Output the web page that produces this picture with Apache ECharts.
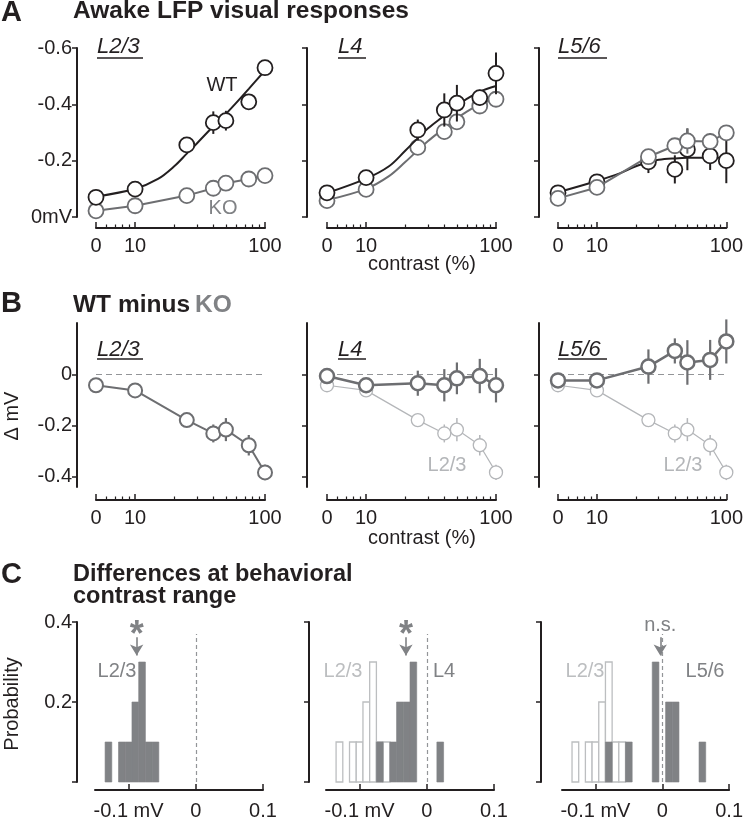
<!DOCTYPE html>
<html><head><meta charset="utf-8">
<script src="https://cdn.jsdelivr.net/npm/echarts@6/dist/echarts.min.js"></script>
<style>html,body{margin:0;padding:0;background:#fff}#c{width:746px;height:821px}</style>
</head><body><div id="c"></div>
<script>
// ================= DATA =================
const contrasts = [0, 10, 25, 40, 50, 75, 100];
const fitContrasts = [0, 10, 15, 20, 25, 30, 40, 50, 60, 75, 100];
const xTickContrasts = [0, 10, 100];
const xTickLabels = ['0', '10', '100'];
const minorTickContrasts = [6, 7, 8, 9, 20, 30, 40, 50, 60, 70, 80, 90];
const layerNames = ['L2/3', 'L4', 'L5/6'];

// Panel A: awake LFP responses (mV)
const aL23_WT     = [-0.070, -0.099, -0.256, -0.335, -0.342, -0.409, -0.530];
const aL23_WT_err = [0.008, 0.008, 0.010, 0.040, 0.035, 0.010, 0.010];
const aL23_WT_fit = [-0.072, -0.100, -0.135, -0.180, -0.225, -0.262, -0.322, -0.366, -0.405, -0.455, -0.520];
const aL23_KO     = [-0.022, -0.040, -0.076, -0.102, -0.120, -0.135, -0.147];
const aL23_KO_err = [0.006, 0.006, 0.008, 0.010, 0.010, 0.008, 0.008];

const aL4_WT      = [-0.086, -0.140, -0.309, -0.380, -0.404, -0.424, -0.510];
const aL4_WT_err  = [0.010, 0.010, 0.037, 0.059, 0.065, 0.028, 0.074];
const aL4_WT_fit  = [-0.085, -0.136, -0.180, -0.235, -0.280, -0.315, -0.360, -0.395, -0.420, -0.445, -0.465];
const aL4_KO      = [-0.058, -0.098, -0.247, -0.303, -0.338, -0.394, -0.418];
const aL4_KO_err  = [0.008, 0.010, 0.020, 0.028, 0.028, 0.022, 0.018];
const aL4_KO_fit  = [-0.060, -0.100, -0.145, -0.195, -0.237, -0.270, -0.315, -0.350, -0.375, -0.400, -0.420];

const aL56_WT     = [-0.086, -0.125, -0.196, -0.169, -0.240, -0.217, -0.200];
const aL56_WT_err = [0.010, 0.012, 0.040, 0.050, 0.074, 0.050, 0.080];
const aL56_WT_fit = [-0.088, -0.128, -0.155, -0.180, -0.195, -0.203, -0.208, -0.210, -0.210, -0.210, -0.210];
const aL56_KO     = [-0.066, -0.105, -0.214, -0.253, -0.270, -0.268, -0.299];
const aL56_KO_err = [0.008, 0.010, 0.020, 0.025, 0.045, 0.030, 0.020];

const aYTicks = [-0.6, -0.4, -0.2, 0];
const aYTickLabels = ['-0.6', '-0.4', '-0.2', '0mV'];

// Panel B: WT minus KO (delta mV)
const bL23     = [-0.043, -0.063, -0.179, -0.231, -0.216, -0.277, -0.383];
const bL23_err = [0.015, 0.010, 0.020, 0.035, 0.045, 0.040, 0.030];
const bL4      = [-0.007, -0.043, -0.035, -0.043, -0.016, -0.007, -0.043];
const bL4_err  = [0.012, 0.010, 0.049, 0.063, 0.062, 0.067, 0.067];
const bL56     = [-0.024, -0.024, 0.030, 0.091, 0.046, 0.056, 0.128];
const bL56_err = [0.010, 0.015, 0.067, 0.049, 0.087, 0.078, 0.086];
const bYTicks = [0, -0.2, -0.4];
const bYTickLabels = ['0', '-0.2', '-0.4'];

// Panel C: histograms at behavioral contrast range
const histBinWidth = 0.01;
const histL23_x  = [-0.13, -0.11, -0.10, -0.09, -0.08, -0.07, -0.06];
const histL23_p  = [0.1, 0.1, 0.1, 0.2, 0.3, 0.1, 0.1];
const histL4_x   = [-0.07, -0.05, -0.04, -0.03, -0.02, 0.02];
const histL4_p   = [0.1, 0.1, 0.2, 0.2, 0.3, 0.1];
const histL56_x  = [-0.08, -0.05, -0.01, 0.01, 0.02, 0.06];
const histL56_p  = [0.1, 0.1, 0.3, 0.2, 0.2, 0.1];
const histMeans  = [-0.088, -0.031, -0.003];
const sigLabels  = ['*', '*', 'n.s.'];
const cXTicks = [-0.1, 0, 0.1];
const cXTickLabels = ['-0.1 mV', '0', '0.1'];
const cYTicks = [0, 0.2, 0.4];
const cYTickLabels = ['', '0.2', '0.4'];

// ================= STYLE / LAYOUT =================
const FONT = '"Liberation Sans", Arial, Helvetica, sans-serif';
const INK = '#231f20', KO_C = '#6d6e71', HIST_C = '#808285', LIGHT = '#b4b6b9', DASH = '#939598';
const ZERO_AT = 5; // where contrast 0 is drawn on the log axis
const lx = c => Math.log10(c === 0 ? ZERO_AT : c);

const COLS_AB = [96, 327, 558], W_AB = 169, YOFF_AB = [19, 20, 19];
const COLS_C = [95, 326, 562], W_C = 168, YOFF_C = [18, 17, 21];

const option = { animation: false, backgroundColor: '#fff', grid: [], xAxis: [], yAxis: [], series: [], graphic: [] };

function fmt(vals, labels) {
  return v => { const i = vals.findIndex(t => Math.abs(t - v) < 1e-6); return i >= 0 ? labels[i] : ''; };
}
function addGrid(left, top, width, height) { option.grid.push({ left, top, width, height }); return option.grid.length - 1; }
function addX(c) { option.xAxis.push(c); return option.xAxis.length - 1; }
function addY(c) { option.yAxis.push(c); return option.yAxis.length - 1; }

const axisLineStyle = { color: INK, width: 2 };
const labelStyle = { fontSize: 20, color: INK, fontFamily: FONT };

function contrastAxis(g, offset) {
  const pos = xTickContrasts.map(lx);
  const xi = addX({
    type: 'value', gridIndex: g, min: lx(0), max: lx(100), position: 'bottom', offset,
    axisLine: { show: true, onZero: false, lineStyle: axisLineStyle },
    axisTick: { show: true, inside: true, length: 6, customValues: pos, lineStyle: { color: INK, width: 1.5 } },
    axisLabel: Object.assign({ show: true, customValues: pos, formatter: fmt(pos, xTickLabels), margin: 8 }, labelStyle),
    splitLine: { show: false }
  });
  addX({
    type: 'value', gridIndex: g, min: lx(0), max: lx(100), position: 'bottom', offset,
    axisLine: { show: false, onZero: false },
    axisTick: { show: true, inside: true, length: 3.5, customValues: minorTickContrasts.map(lx), lineStyle: { color: INK, width: 1.2 } },
    axisLabel: { show: false }, splitLine: { show: false }
  });
  return xi;
}
function valueYAxis(g, offset, min, max, inverse, ticks, labels, showLabels) {
  return addY({
    type: 'value', gridIndex: g, min, max, inverse, position: 'left', offset,
    axisLine: { show: true, onZero: false, lineStyle: axisLineStyle },
    axisTick: { show: true, length: 5, customValues: ticks, lineStyle: { color: INK, width: 1.5 } },
    axisLabel: Object.assign({ show: showLabels, customValues: ticks.filter((t, i) => labels[i] !== ''), formatter: fmt(ticks, labels), margin: 5 }, labelStyle),
    splitLine: { show: false }
  });
}

function errSeries(xi, yi, ys, es, color, width, z) {
  return {
    type: 'custom', xAxisIndex: xi, yAxisIndex: yi, z, silent: true, clip: false,
    encode: { x: 0, y: 1 },
    data: contrasts.map((c, i) => [lx(c), ys[i], es[i]]),
    renderItem: (params, api) => {
      const x = api.value(0), y = api.value(1), e = api.value(2);
      const p1 = api.coord([x, y - e]), p2 = api.coord([x, y + e]);
      return { type: 'line', shape: { x1: p1[0], y1: p1[1], x2: p2[0], y2: p2[1] }, style: { stroke: color, lineWidth: width } };
    }
  };
}
function pointLine(xi, yi, ys, color, size, bw, lw, z, extra) {
  return Object.assign({
    type: 'line', xAxisIndex: xi, yAxisIndex: yi, z, silent: true,
    data: contrasts.map((c, i) => [lx(c), ys[i]]),
    symbol: 'circle', symbolSize: size, showSymbol: true,
    lineStyle: { color, width: lw, opacity: lw > 0 ? 1 : 0 },
    itemStyle: { color: '#fff', borderColor: color, borderWidth: bw }
  }, extra || {});
}
function fitLine(xi, yi, ys, color, width, z) {
  return {
    type: 'line', xAxisIndex: xi, yAxisIndex: yi, z, silent: true, smooth: 0.35,
    data: fitContrasts.map((c, i) => [lx(c), ys[i]]), symbol: 'none', showSymbol: false,
    lineStyle: { color, width }
  };
}

// ---------- Panel A ----------
const A_TOP = 48, A_H = 169, A_XOFF = 11;
const aSets = [
  { wt: aL23_WT, wtE: aL23_WT_err, wtF: aL23_WT_fit, ko: aL23_KO, koE: aL23_KO_err, koF: null, wtTop: true },
  { wt: aL4_WT, wtE: aL4_WT_err, wtF: aL4_WT_fit, ko: aL4_KO, koE: aL4_KO_err, koF: aL4_KO_fit, wtTop: true },
  { wt: aL56_WT, wtE: aL56_WT_err, wtF: aL56_WT_fit, ko: aL56_KO, koE: aL56_KO_err, koF: null, wtTop: false }
];
aSets.forEach((s, k) => {
  const g = addGrid(COLS_AB[k], A_TOP, W_AB, A_H);
  const xi = contrastAxis(g, A_XOFF);
  const yi = valueYAxis(g, YOFF_AB[k], -0.6, 0, true, aYTicks, aYTickLabels, k === 0);
  const zWT = s.wtTop ? 10 : 3, zKO = s.wtTop ? 3 : 10;
  option.series.push(errSeries(xi, yi, s.ko, s.koE, KO_C, 2, zKO));
  if (s.koF) {
    option.series.push(fitLine(xi, yi, s.koF, KO_C, 2, zKO + 1));
    option.series.push(pointLine(xi, yi, s.ko, KO_C, 15, 1.8, 0, zKO + 2));
  } else {
    option.series.push(pointLine(xi, yi, s.ko, KO_C, 15, 1.8, 2, zKO + 2));
  }
  option.series.push(errSeries(xi, yi, s.wt, s.wtE, INK, 2, zWT));
  option.series.push(fitLine(xi, yi, s.wtF, INK, 2, zWT + 1));
  option.series.push(pointLine(xi, yi, s.wt, INK, 15, 1.8, 0, zWT + 2));
});

// ---------- Panel B ----------
const B_TOP = 323, B_H = 164, B_XOFF = 13;
const bSets = [
  { d: bL23, e: bL23_err, ref: false, lw: 2, bw: 2, size: 14 },
  { d: bL4, e: bL4_err, ref: true, lw: 2.5, bw: 2.5, size: 14 },
  { d: bL56, e: bL56_err, ref: true, lw: 2.5, bw: 2.5, size: 14 }
];
bSets.forEach((s, k) => {
  const g = addGrid(COLS_AB[k], B_TOP, W_AB, B_H);
  const xi = contrastAxis(g, B_XOFF);
  const yi = valueYAxis(g, YOFF_AB[k], -0.44, 0.2, false, bYTicks, bYTickLabels, k === 0);
  if (s.ref) {
    option.series.push(errSeries(xi, yi, bL23, bL23_err, LIGHT, 1.5, 3));
    option.series.push(pointLine(xi, yi, bL23, LIGHT, 13, 1.3, 1.2, 4));
  }
  option.series.push(errSeries(xi, yi, s.d, s.e, KO_C, 2.2, 6));
  option.series.push(pointLine(xi, yi, s.d, KO_C, s.size, s.bw, s.lw, 7, {
    markLine: { silent: true, z: 1, symbol: 'none', label: { show: false },
      lineStyle: { type: [6, 4], color: DASH, width: 1.2 }, data: [{ yAxis: 0 }] }
  }));
});

// ---------- Panel C ----------
const C_TOP = 622, C_H = 162, C_XOFF = 8;
function histSeries(xi, yi, xs, ps, fill, stroke, lw, z, extra) {
  return Object.assign({
    type: 'custom', xAxisIndex: xi, yAxisIndex: yi, z, silent: true, clip: false,
    encode: { x: 0, y: 1 },
    data: xs.map((x, i) => [x, ps[i]]),
    renderItem: (params, api) => {
      const x = api.value(0), p = api.value(1);
      const a = api.coord([x - histBinWidth / 2, p]), b = api.coord([x + histBinWidth / 2, 0]);
      return { type: 'rect', shape: { x: a[0], y: a[1], width: b[0] - a[0], height: b[1] - a[1] },
        style: { fill, stroke, lineWidth: lw } };
    }
  }, extra || {});
}
const cSets = [
  { x: histL23_x, p: histL23_p, ref: false },
  { x: histL4_x, p: histL4_p, ref: true },
  { x: histL56_x, p: histL56_p, ref: true }
];
cSets.forEach((s, k) => {
  const g = addGrid(COLS_C[k], C_TOP, W_C, C_H);
  const xi = addX({
    type: 'value', gridIndex: g, min: -0.15, max: 0.1, position: 'bottom', offset: C_XOFF,
    axisLine: { show: true, onZero: false, lineStyle: axisLineStyle },
    axisTick: { show: true, inside: true, length: 6, customValues: cXTicks, lineStyle: { color: INK, width: 1.5 } },
    axisLabel: Object.assign({ show: true, customValues: cXTicks, formatter: fmt(cXTicks, cXTickLabels), margin: 11 }, labelStyle),
    splitLine: { show: false }
  });
  const yi = valueYAxis(g, YOFF_C[k], 0, 0.4, false, cYTicks, cYTickLabels, k === 0);
  if (s.ref) option.series.push(histSeries(xi, yi, histL23_x, histL23_p, '#fff', '#bcbec0', 1.3, 2));
  const m = histMeans[k];
  const isStar = sigLabels[k] === '*';
  option.series.push(histSeries(xi, yi, s.x, s.p, HIST_C, HIST_C, 0.6, 3, {
    markLine: {
      silent: true, symbol: 'none', label: { show: false },
      data: [
        [{ coord: [0, 0], symbol: 'none', lineStyle: { type: [4, 3], color: DASH, width: 1.2 }, label: { show: false } },
         { coord: [0, 0.37], symbol: 'none' }],
        [{ coord: [m, 0.362], symbol: 'none', lineStyle: { type: 'solid', color: HIST_C, width: 1.6 },
           label: { show: true, position: 'start', formatter: sigLabels[k], color: HIST_C, fontFamily: FONT,
                    fontWeight: isStar ? 'bold' : 'normal',
                    fontSize: isStar ? 36 : 20, distance: isStar ? -17 : 2 } },
         { coord: [m, 0.316], symbol: 'arrow', symbolSize: [10, 11] }]
      ]
    }
  }));
});

// ---------- Text annotations ----------
function txt(text, x, y, o) {
  o = o || {};
  option.graphic.push({
    type: 'text', x, y, rotation: o.rot || 0, silent: true, z: 100,
    style: { text, fill: o.color || INK, textAlign: o.align || 'left', textVerticalAlign: 'middle',
      font: (o.style || '') + ' ' + (o.weight || 'normal') + ' ' + (o.size || 20) + 'px ' + FONT }
  });
}
function uline(x1, x2, y) {
  option.graphic.push({ type: 'line', silent: true, z: 100, shape: { x1, y1: y, x2, y2: y }, style: { stroke: INK, lineWidth: 1.5 } });
}
txt('A', 1, 13, { weight: 'bold', size: 29 });
txt('Awake LFP visual responses', 73, 11, { weight: 'bold', size: 24.5 });
txt('B', 1, 304, { weight: 'bold', size: 29 });
txt('WT minus ', 73, 305, { weight: 'bold', size: 24.5 });
txt('KO', 195, 305, { weight: 'bold', size: 24.5, color: HIST_C });
txt('C', 1, 575, { weight: 'bold', size: 29 });
txt('Differences at behavioral', 73, 575, { weight: 'bold', size: 23.5 });
txt('contrast range', 73, 597, { weight: 'bold', size: 23.5 });
const layerLabelX = [97, 338, 558];
const layerLabelW = [46, 28, 49];
[ [47, 58], [350, 359] ].forEach(([ty, uy]) => {
  layerNames.forEach((n, k) => {
    txt(n, layerLabelX[k], ty, { style: 'italic', size: 22 });
    uline(layerLabelX[k], layerLabelX[k] + layerLabelW[k], uy);
  });
});
txt('WT', 222, 85, { align: 'center' });
txt('KO', 223, 208, { align: 'center', color: HIST_C });
txt('L2/3', 447, 465, { align: 'center', color: LIGHT });
txt('L2/3', 683, 465, { align: 'center', color: LIGHT });
txt('L2/3', 117, 671, { align: 'center', color: HIST_C });
txt('L2/3', 343, 671, { align: 'center', color: '#bcbec0' });
txt('L4', 444, 671, { align: 'center', color: HIST_C });
txt('L2/3', 585, 671, { align: 'center', color: '#bcbec0' });
txt('L5/6', 705, 671, { align: 'center', color: HIST_C });
txt('contrast (%)', 422, 264, { align: 'center' });
txt('contrast (%)', 422, 538, { align: 'center' });
txt('\u0394 mV', 12, 416, { align: 'center', rot: Math.PI / 2 });
txt('Probability', 12, 704, { align: 'center', rot: Math.PI / 2 });

const chart = echarts.init(document.getElementById('c'), null, { renderer: 'canvas' });
chart.setOption(option);
</script></body></html>
